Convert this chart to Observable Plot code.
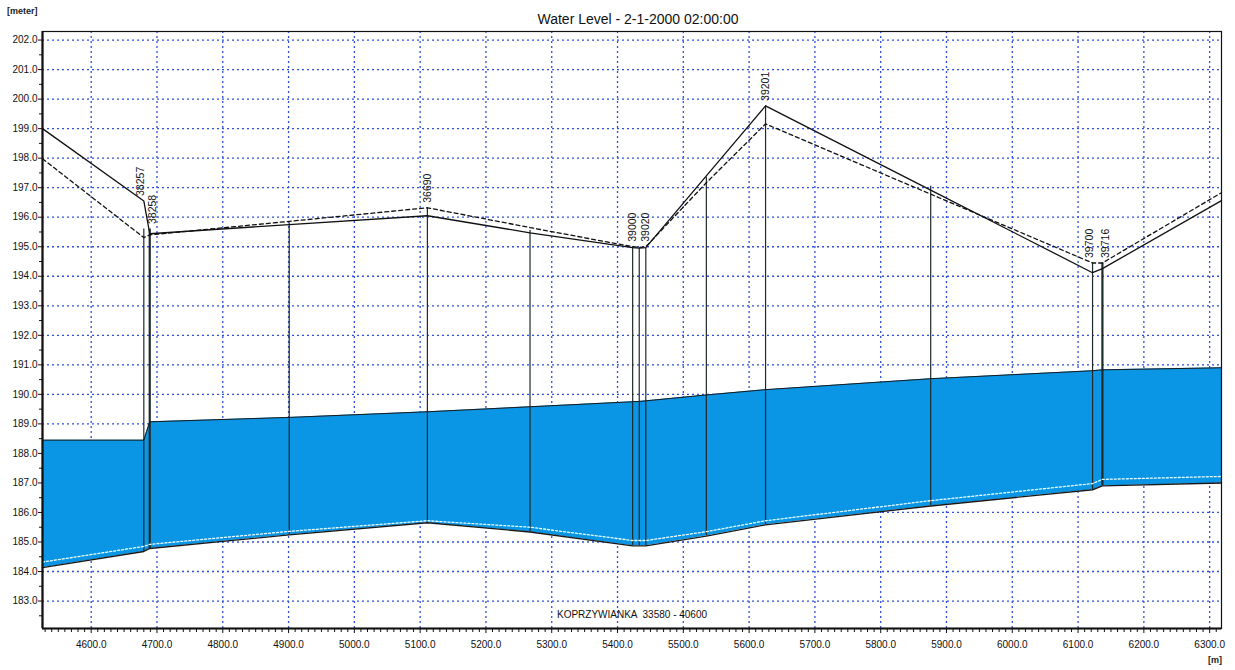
<!DOCTYPE html>
<html>
<head>
<meta charset="utf-8">
<script src="https://cdn.jsdelivr.net/npm/d3@7"></script>
<script src="https://cdn.jsdelivr.net/npm/@observablehq/plot@0.6"></script>
<style>
  body { margin: 0; background: #fff; font-family: Arial, "Liberation Sans", sans-serif; }
  #wrap { position: relative; width: 1235px; height: 670px; overflow: hidden; }
  #title { position: absolute; left: 0; width: 1276px; top: 11px; text-align: center; font-size: 14px; color: #111; }
  #ylab { position: absolute; left: 7px; top: 6px; font-size: 9px; font-weight: bold; color: #222; }
  #xlab { position: absolute; left: 1208px; top: 655px; font-size: 9px; font-weight: bold; color: #222; }
</style>
</head>
<body>
<div id="wrap">
  <div id="chart"></div>
  <div id="title">Water Level - 2-1-2000 02:00:00</div>
  <div id="ylab">[meter]</div>
  <div id="xlab">[m]</div>
</div>
<script>
// ---- data ----
const chainage   = [4526, 4680, 4689, 4901, 5111, 5267, 5423, 5433, 5443, 5535, 5625, 5876, 6122, 6137, 6318];
const leftBank   = [199.0, 196.55, 195.44, 195.75, 196.05, 195.47, 194.97, 194.95, 194.97, 197.40, 199.77, 196.92, 194.12, 194.26, 196.56];
const rightBank  = [197.98, 195.31, 195.40, 195.86, 196.32, 195.65, 195.00, 194.98, 195.00, 197.17, 199.16, 196.78, 194.45, 194.45, 196.83];
const waterLevel = [188.45, 188.45, 189.07, 189.22, 189.41, 189.58, 189.75, 189.76, 189.78, 189.98, 190.16, 190.53, 190.80, 190.83, 190.90];
const bedLevel   = [184.13, 184.68, 184.78, 185.24, 185.65, 185.34, 184.87, 184.87, 184.87, 185.20, 185.58, 186.22, 186.77, 186.90, 187.00];
const bedLevel2  = [184.32, 184.85, 184.92, 185.36, 185.72, 185.50, 185.05, 185.05, 185.05, 185.35, 185.72, 186.40, 186.98, 187.12, 187.22];
// cross sections (indices 1..13 of chainage)
const sectionName = ["38257", "38258", "", "36690", "", "39000", "", "39020", "", "39201", "", "39700", "39716"];
const sectionTop  = [195.60, 195.60, 195.80, 196.32, 195.55, 194.95, 194.95, 194.95, 197.35, 199.77, 197.05, 194.45, 194.45];
const sectionBold = [false, true, false, false, false, false, false, false, false, false, false, false, true];
const sectionSide = [-1, 1, 0, 0, 0, 0, 0, 0, 0, 0, 0, -1, 1];   // label on left / centre / right of its line

const xTicks = d3.range(4600, 6301, 100);
const yTicks = d3.range(183, 203, 1);
const xMinor = d3.range(4530, 6318, 10).filter(v => v % 100 !== 0);
const yMinor = d3.range(182.5, 202.3, 1);
const caption = "KOPRZYWIANKA  33580 - 40600";

const xDomain = [4526, 6318];
const yDomain = [182.07, 202.29];

// ---- tables ----
const profile = chainage.map((x, i) => ({
  x, left: leftBank[i], right: rightBank[i], water: waterLevel[i], bed: bedLevel[i], bed2: bedLevel2[i]
}));
const sections = sectionName.map((name, i) => ({
  x: chainage[i + 1], name, top: sectionTop[i], bed: bedLevel[i + 1],
  left: leftBank[i + 1], right: rightBank[i + 1], bold: sectionBold[i], side: sectionSide[i]
}));
const labelled = sections.filter(d => d.name);

const gridColor = "#2f4fdc";
const labelMark = (side, dx) => Plot.text(labelled.filter(d => d.side === side), {
  x: "x", y: d => Math.max(d.top, d.left, d.right), text: "name",
  rotate: -90, textAnchor: "start", dy: -5, dx, fontSize: 10.5, fill: "#111"
});

const chart = Plot.plot({
  width: 1235,
  height: 670,
  marginLeft: 42,
  marginRight: 14,
  marginTop: 31,
  marginBottom: 42,
  style: { fontFamily: "Arial, 'Liberation Sans', sans-serif", fontSize: "10px", color: "#111", background: "white" },
  x: { domain: xDomain, label: null },
  y: { domain: yDomain, label: null },
  marks: [
    Plot.gridX(xTicks, { stroke: gridColor, strokeOpacity: 1, strokeWidth: 1.3, strokeDasharray: "2,3" }),
    Plot.gridY(yTicks, { stroke: gridColor, strokeOpacity: 1, strokeWidth: 1.3, strokeDasharray: "2,3" }),
    // water body
    Plot.areaY(profile, { x: "x", y1: "bed", y2: "water", fill: "#0b95e5", fillOpacity: 1 }),
    // section verticals
    Plot.ruleX(sections, { x: "x", y1: "bed", y2: "top", stroke: "#1e2b2b", strokeWidth: d => d.bold ? 2.2 : 1.2 }),
    // bed and water lines
    Plot.line(profile, { x: "x", y: "bed2", stroke: "#e8ffff", strokeWidth: 1.3, strokeDasharray: "2,2" }),
    Plot.line(profile, { x: "x", y: "bed", stroke: "#1a1a1a", strokeWidth: 1.4 }),
    Plot.line(profile, { x: "x", y: "water", stroke: "#1a1a1a", strokeWidth: 1 }),
    // banks
    Plot.line(profile, { x: "x", y: "left", stroke: "#111", strokeWidth: 1.3 }),
    Plot.line(profile, { x: "x", y: "right", stroke: "#111", strokeWidth: 1.3, strokeDasharray: "4,3" }),
    // section labels
    labelMark(-1, -3),
    labelMark(0, 0),
    labelMark(1, 3),
    Plot.text([caption], { frameAnchor: "bottom", dy: -11, fontSize: 10, fill: "#111" }),
    // frame & axes
    Plot.frame({ stroke: "#111", strokeWidth: 1.2 }),
    Plot.ruleX([xDomain[0]], { stroke: "#111", strokeWidth: 2.2 }),
    Plot.ruleY([yDomain[0]], { stroke: "#111", strokeWidth: 2.2 }),
    Plot.axisY(yTicks, { tickFormat: d => d.toFixed(1), tickSize: 4, tickPadding: 1, fontSize: 10, stroke: "#111", fill: "#111", label: null }),
    Plot.axisY(yMinor, { tickSize: 3, text: null, stroke: "#111", label: null }),
    Plot.axisX(xTicks, { tickFormat: d => d.toFixed(1), tickSize: 5, tickPadding: 7, fontSize: 10, stroke: "#111", fill: "#111", label: null }),
    Plot.axisX(xMinor, { tickSize: 4, text: null, stroke: "#111", label: null })
  ]
});
document.getElementById("chart").appendChild(chart);
</script>
</body>
</html>
